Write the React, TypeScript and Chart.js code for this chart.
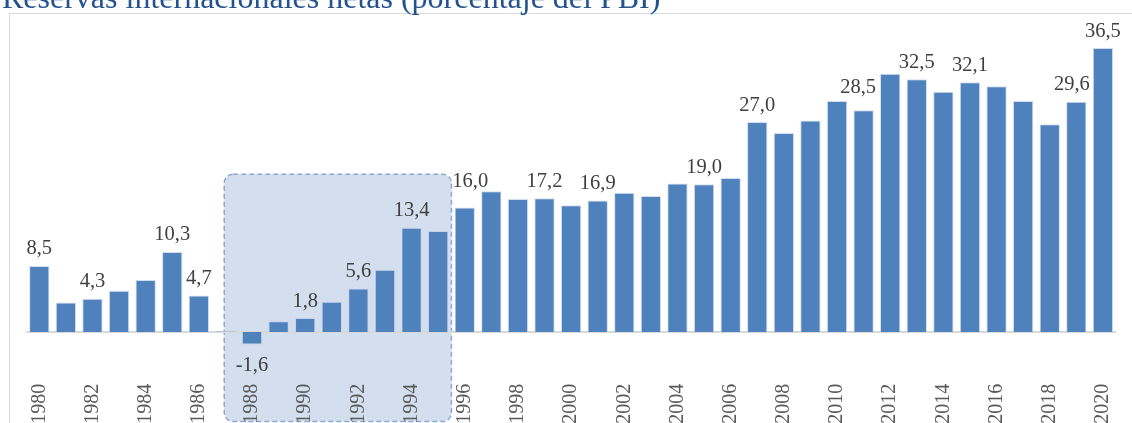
import React, { useEffect, useRef } from "react";
import { Chart, registerables } from "chart.js";

Chart.register(...registerables);

const TITLE = "Reservas internacionales netas (porcentaje del PBI)";

const YEARS: string[] = [
  "1980", "1981", "1982", "1983", "1984", "1985", "1986", "1987", "1988", "1989",
  "1990", "1991", "1992", "1993", "1994", "1995", "1996", "1997", "1998", "1999",
  "2000", "2001", "2002", "2003", "2004", "2005", "2006", "2007", "2008", "2009",
  "2010", "2011", "2012", "2013", "2014", "2015", "2016", "2017", "2018", "2019", "2020",
];

const RESERVES: number[] = [
  8.5, 3.8, 4.3, 5.3, 6.7, 10.3, 4.7, 0.1, -1.6, 1.4,
  1.8, 3.9, 5.6, 8.0, 13.4, 13.0, 16.0, 18.1, 17.1, 17.2,
  16.3, 16.9, 17.9, 17.5, 19.1, 19.0, 19.8, 27.0, 25.6, 27.2,
  29.7, 28.5, 33.2, 32.5, 30.9, 32.1, 31.6, 29.7, 26.7, 29.6, 36.5,
];

const LABELLED_YEARS: string[] = [
  "1980", "1982", "1985", "1986", "1988", "1990", "1992", "1994", "1996",
  "1999", "2001", "2005", "2007", "2011", "2013", "2015", "2019", "2020",
];

const SHADE_FROM = "1987";
const SHADE_TO = "1995";
const SHADE_TOP_VALUE = 20.3;
const SHADE_BOTTOM_VALUE = -11.5;

const Y_MIN = -6;
const Y_MAX = 38;

// small manual nudges of data labels (style only)
const LABEL_NUDGE: Record<string, { dx: number; dy: number }> = {
  "1996": { dx: 5.5, dy: -9.5 },
  "2011": { dx: -5.5, dy: -5.5 },
  "2019": { dx: -4.5, dy: 0 },
};

const SERIF = '"Liberation Serif", "Times New Roman", serif';
const BAR_COLOR = "#4F81BD";

const decorPlugin = {
  id: "decor",
  beforeDraw(chart: any) {
    const ctx = chart.ctx;
    ctx.save();
    // frame
    ctx.strokeStyle = "#D9D9D9";
    ctx.lineWidth = 1;
    ctx.strokeRect(9.5, 13.5, 1200, 600);
    // title
    ctx.fillStyle = "#24528F";
    ctx.font = `32px ${SERIF}`;
    ctx.textAlign = "left";
    ctx.textBaseline = "alphabetic";
    ctx.fillText(TITLE, 2, 7.5);
    ctx.restore();

    // shaded box (behind axes and bars)
    const xs = chart.scales.x;
    const ys = chart.scales.y;
    const i0 = YEARS.indexOf(SHADE_FROM);
    const i1 = YEARS.indexOf(SHADE_TO);
    const x1 = xs.getPixelForValue(i0) - 1.2;
    const x2 = xs.getPixelForValue(i1 + 0.5);
    const y1 = ys.getPixelForValue(SHADE_TOP_VALUE);
    const y2 = ys.getPixelForValue(SHADE_BOTTOM_VALUE);
    ctx.save();
    ctx.beginPath();
    ctx.roundRect(x1, y1, x2 - x1, y2 - y1, 9);
    ctx.fillStyle = "rgba(184, 204, 228, 0.62)";
    ctx.fill();
    ctx.setLineDash([5, 3]);
    ctx.strokeStyle = "#8FAAD0";
    ctx.lineWidth = 1.5;
    ctx.stroke();
    ctx.restore();

    // zero line
    const y0 = ys.getPixelForValue(0);
    ctx.save();
    ctx.strokeStyle = "#D9D9D9";
    ctx.lineWidth = 2;
    ctx.beginPath();
    ctx.moveTo(chart.chartArea.left, y0);
    ctx.lineTo(chart.chartArea.right, y0);
    ctx.stroke();
    ctx.restore();
  },
  afterDatasetsDraw(chart: any) {
    const ctx = chart.ctx;
    const meta = chart.getDatasetMeta(0);
    ctx.save();
    ctx.fillStyle = "#404040";
    ctx.font = `20.5px ${SERIF}`;
    ctx.textAlign = "center";
    ctx.textBaseline = "alphabetic";
    LABELLED_YEARS.forEach((yr) => {
      const i = YEARS.indexOf(yr);
      const el = meta.data[i];
      const v = RESERVES[i];
      const n = LABEL_NUDGE[yr] || { dx: 0, dy: 0 };
      const txt = v.toFixed(1).replace(".", ",");
      if (v >= 0) {
        ctx.fillText(txt, el.x + n.dx, el.y - 11.5 + n.dy);
      } else {
        ctx.fillText(txt, el.x + n.dx, el.y + 26.5 + n.dy);
      }
    });
    ctx.restore();
  },
};

export default function App() {
  const ref = useRef<HTMLCanvasElement | null>(null);
  useEffect(() => {
    if (!ref.current) return;
    const chart = new Chart(ref.current, {
      type: "bar",
      data: {
        labels: YEARS,
        datasets: [
          {
            data: RESERVES,
            backgroundColor: BAR_COLOR,
            borderColor: "rgba(190, 208, 232, 0.7)",
            borderWidth: 1,
            barPercentage: 0.765,
            categoryPercentage: 1,
          },
        ],
      },
      options: {
        responsive: false,
        animation: false,
        devicePixelRatio: 1,
        layout: { padding: { left: 26, right: 6, top: 36.4, bottom: 41.2 } },
        plugins: {
          legend: { display: false },
          tooltip: { enabled: false },
          title: { display: false },
        },
        scales: {
          x: {
            type: "category",
            offset: true,
            grid: { display: false, drawTicks: false },
            border: { display: false },
            ticks: {
              autoSkip: false,
              maxRotation: 90,
              minRotation: 90,
              padding: 5,
              color: "#595959",
              font: { family: SERIF, size: 20 },
              callback: (_v: any, i: number) => (i % 2 === 0 ? YEARS[i] : ""),
            },
          },
          y: {
            display: false,
            min: Y_MIN,
            max: Y_MAX,
          },
        },
      },
      plugins: [decorPlugin],
    });
    return () => chart.destroy();
  }, []);
  return (
    <div style={{ position: "absolute", left: 0, top: 0, width: 1132, height: 470, background: "#fff" }}>
      <canvas ref={ref} width={1132} height={470} style={{ width: 1132, height: 470, display: "block" }} />
    </div>
  );
}
